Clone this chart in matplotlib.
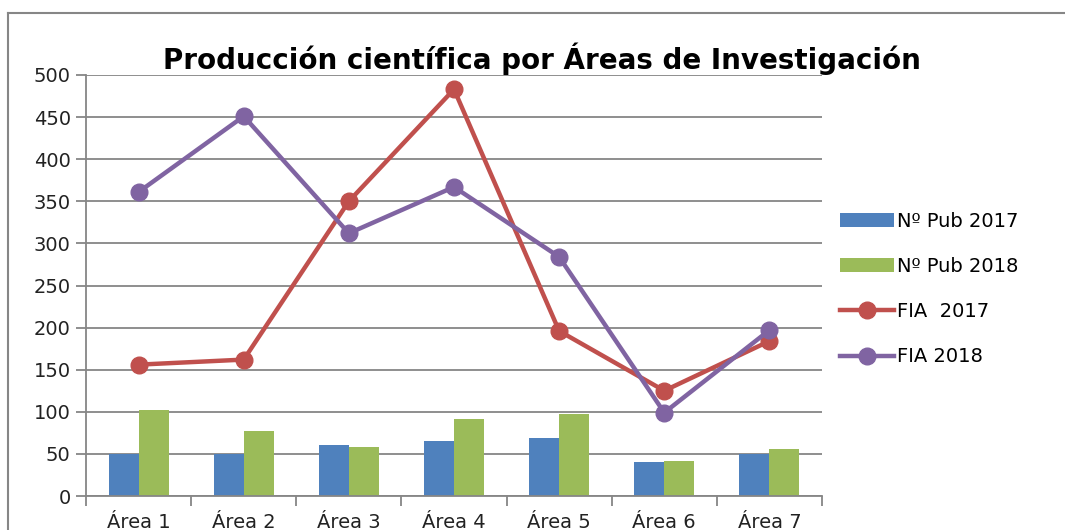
import numpy as np
import matplotlib.pyplot as plt
from matplotlib.lines import Line2D

areas = ["Área 1", "Área 2", "Área 3", "Área 4", "Área 5", "Área 6", "Área 7"]
pub_2017 = [50, 50, 61, 65, 69, 40, 50]
pub_2018 = [102, 77, 58, 91, 97, 42, 56]
fia_2017 = [156, 162, 350, 483, 196, 125, 184]
fia_2018 = [361, 451, 312, 367, 284, 99, 197]

blue = "#4F81BD"
green = "#9BBB59"
red = "#C0504D"
purple = "#8064A2"
grey = "#868686"

plt.rcParams['font.family'] = ['DejaVu Sans']

fig = plt.figure(figsize=(10.65, 5.3), dpi=100)
ax = fig.add_axes([86 / 1065, 1 - 496 / 530, 736 / 1065, 421 / 530])

x = np.arange(len(areas))
w = 0.285
b1 = ax.bar(x - w / 2, pub_2017, w, color=blue, label="Nº Pub 2017", zorder=2)
b2 = ax.bar(x + w / 2, pub_2018, w, color=green, label="Nº Pub 2018", zorder=2)
l1, = ax.plot(x, fia_2017, color=red, lw=3.2, marker="o", ms=12, label="FIA  2017", zorder=3)
l2, = ax.plot(x, fia_2018, color=purple, lw=3.2, marker="o", ms=12, label="FIA 2018", zorder=4)

ax.set_xlim(-0.5, len(areas) - 0.5)
ax.set_ylim(0, 500)
ax.set_yticks(range(0, 501, 50))
ax.set_xticks(x)
ax.set_xticklabels(areas)
ax.set_xticks(np.arange(-0.5, len(areas)), minor=True)
ax.tick_params(axis="x", which="major", length=0, pad=12, labelsize=14, colors="#222222")
ax.tick_params(axis="x", which="minor", length=7, width=1.3, color=grey, direction="out")
ax.tick_params(axis="y", length=7, width=1.3, color=grey, labelsize=14, labelcolor="#222222", pad=4)
ax.yaxis.grid(True, color=grey, lw=1.3, zorder=0)
ax.set_axisbelow(True)
for s in ["top", "right"]:
    ax.spines[s].set_visible(False)
for s in ["left", "bottom"]:
    ax.spines[s].set_color(grey)
    ax.spines[s].set_linewidth(1.3)

ax.set_title("Producción científica por Áreas de Investigación", fontsize=20,
             fontweight="bold", pad=4, x=(542 - 86) / 736)

fig.legend([b1, b2, l1, l2], ["Nº Pub 2017", "Nº Pub 2018", "FIA  2017", "FIA 2018"],
           loc="center left", bbox_to_anchor=(822 / 1065, 1 - 289 / 530),
           frameon=False, fontsize=14, handlelength=2.8, handletextpad=0.15,
           labelspacing=1.35)

# outer chart frame (cut off at right and bottom)
fig.add_artist(Line2D([8 / 1065, 1], [1 - 13 / 530, 1 - 13 / 530], color=grey, lw=1.5))
fig.add_artist(Line2D([8 / 1065, 8 / 1065], [0, 1 - 13 / 530], color=grey, lw=1.5))

fig.savefig("out.png", dpi=100)
